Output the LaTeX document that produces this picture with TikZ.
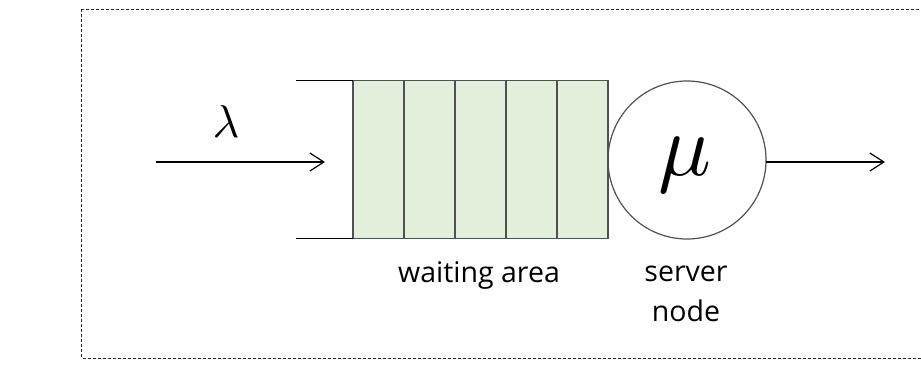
\documentclass[tikz,border=0pt]{standalone}
\usepackage{fontspec}
\setmainfont{Open Sans}
\usetikzlibrary{arrows.meta}
\definecolor{slotfill}{HTML}{E2EFDA}
\definecolor{slotline}{HTML}{505050}
\tikzset{
  slot/.style={draw=slotline, fill=slotfill, line width=1.2pt, minimum width=51pt,
    minimum height=158pt, inner sep=0pt, outer sep=0pt, anchor=north west},
  flow/.style={line width=1.2pt, -{Straight Barb[length=14pt, width=18pt, line width=1.2pt]}},
  label/.style={font=\fontsize{28.5}{40}\selectfont, inner sep=0pt, anchor=base},
}
\begin{document}
\begin{tikzpicture}[x=1pt, y=-1pt]
  \useasboundingbox (0,0) rectangle (921,365);
  % dashed frame around the system
  \draw[line width=1pt, dash pattern=on 3pt off 2pt, black!85] (81.5,9) rectangle (921,358);

  % waiting area: five slots
  \node[slot] (s1) at (353,80.5) {};
  \node[slot] (s2) at (404,80.5) {};
  \node[slot] (s3) at (455,80.5) {};
  \node[slot] (s4) at (506,80.5) {};
  \node[slot] (s5) at (557,80.5) {};

  % open end of the queue
  \coordinate (qtop) at (296,80.5);
  \coordinate (qbot) at (296,238.5);
  \draw[line width=1.2pt] (qtop) -- (s1.north west);
  \draw[line width=1.2pt] (qbot) -- (s1.south west);

  % server
  \node[circle, draw=slotline, line width=1.2pt, minimum size=158pt, inner sep=0pt,
        outer sep=0pt] (srv) at (687,160) {};
  \node[inner sep=0pt, scale=8.8] (mu) at (685,165) {$\mu$};

  % arrival and departure
  \coordinate (arrS) at (156,162);
  \coordinate (arrE) at (325,162);
  \draw[flow] (arrS) -- (arrE);
  \node[inner sep=0pt, scale=4.6] (lam) at (226,122) {$\lambda$};

  \coordinate (depE) at (885,162);
  \draw[flow] (srv.east |- depE) -- (depE);

  % captions
  \node[label] (wa) at (479,282) {waiting area};
  \node[label, align=center] (sn) at (686,321) {server\\node};
\end{tikzpicture}
\end{document}
